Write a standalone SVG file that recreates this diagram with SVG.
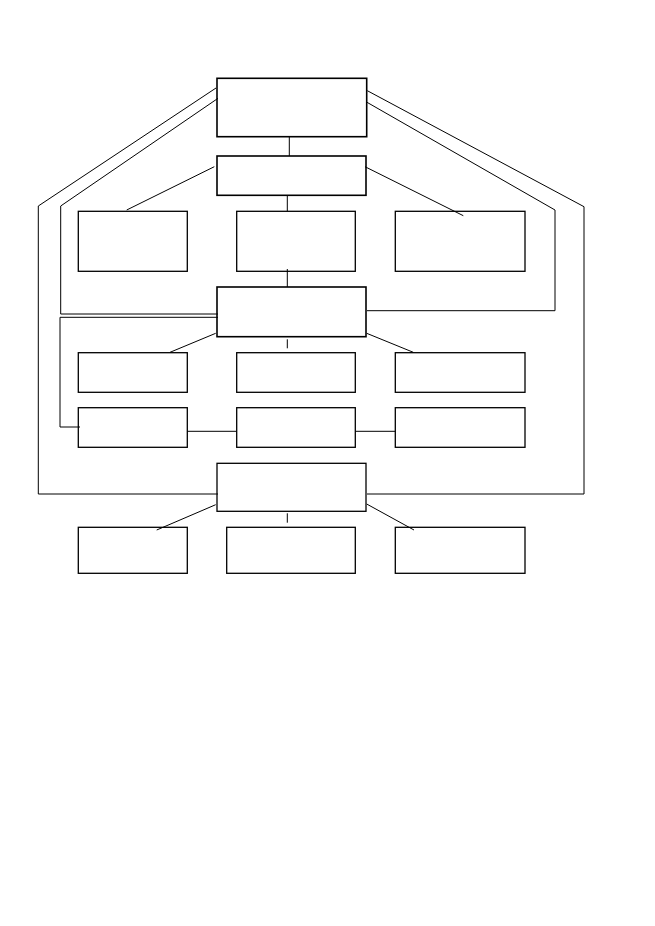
<svg xmlns="http://www.w3.org/2000/svg" width="655" height="926" viewBox="0 0 655 926">
<style>
.box{fill:none;stroke:#000;stroke-width:1.3}
.main{fill:none;stroke:#000;stroke-width:1.6}
.c{fill:none;stroke:#000;stroke-width:1}
</style>
<rect width="655" height="926" fill="#fff"/>
<g id="connectors">
<line class="c" x1="289.3" y1="137" x2="289.3" y2="156"/>
<line class="c" x1="287.3" y1="195" x2="287.3" y2="211"/>
<line class="c" x1="214.3" y1="166.7" x2="126.7" y2="210"/>
<line class="c" x1="365" y1="166.7" x2="463.3" y2="215.7"/>
<line class="c" x1="287.3" y1="269" x2="287.3" y2="287"/>
<polyline class="c" points="216,88 38.3,206 38.3,494 218,494"/>
<polyline class="c" points="218,98.3 60.7,206 60.7,314 218,314"/>
<polyline class="c" points="218,317.3 60,317.3 60,427 80,427"/>
<polyline class="c" points="367.3,90.7 584,206.7 584,494 367,494"/>
<polyline class="c" points="367,102.3 555,210 555,310.7 367,310.7"/>
<line class="c" x1="215.7" y1="333.3" x2="170" y2="352.3"/>
<line class="c" x1="366.7" y1="333.3" x2="413.3" y2="352.3"/>
<line class="c" x1="287.3" y1="339.3" x2="287.3" y2="348.3"/>
<line class="c" x1="187.3" y1="431.3" x2="236.7" y2="431.3"/>
<line class="c" x1="355.3" y1="431.3" x2="395.3" y2="431.3"/>
<line class="c" x1="215.7" y1="504.7" x2="156.7" y2="530"/>
<line class="c" x1="366.7" y1="504" x2="414" y2="530"/>
<line class="c" x1="287.3" y1="513.3" x2="287.3" y2="522.7"/>
</g>
<g id="n1"><rect class="main" x="217" y="78.3" width="149.7" height="58.4"/></g>
<g id="n2"><rect class="main" x="217" y="156" width="149" height="39.3"/></g>
<g id="n3"><rect class="box" x="78.3" y="211.3" width="109" height="60"/></g>
<g id="n4"><rect class="box" x="236.7" y="211.3" width="118.6" height="60"/></g>
<g id="n5"><rect class="box" x="395.3" y="211.3" width="129.7" height="60"/></g>
<g id="n6"><rect class="main" x="217" y="287" width="149" height="49.7"/></g>
<g id="n7"><rect class="box" x="78.3" y="352.7" width="109" height="39.6"/></g>
<g id="n8"><rect class="box" x="236.7" y="352.7" width="118.6" height="39.6"/></g>
<g id="n9"><rect class="box" x="395.3" y="352.7" width="129.7" height="39.6"/></g>
<g id="n10"><rect class="box" x="78.3" y="407.7" width="109" height="39.6"/></g>
<g id="n11"><rect class="box" x="236.7" y="407.7" width="118.6" height="39.6"/></g>
<g id="n12"><rect class="box" x="395.3" y="407.7" width="129.7" height="39.6"/></g>
<g id="n13"><rect class="box" x="217" y="463.3" width="149" height="48"/></g>
<g id="n14"><rect class="box" x="78.3" y="527.3" width="109" height="46"/></g>
<g id="n15"><rect class="box" x="226.7" y="527.3" width="128.6" height="46"/></g>
<g id="n16"><rect class="box" x="395.3" y="527.3" width="129.7" height="46"/></g>
</svg>
